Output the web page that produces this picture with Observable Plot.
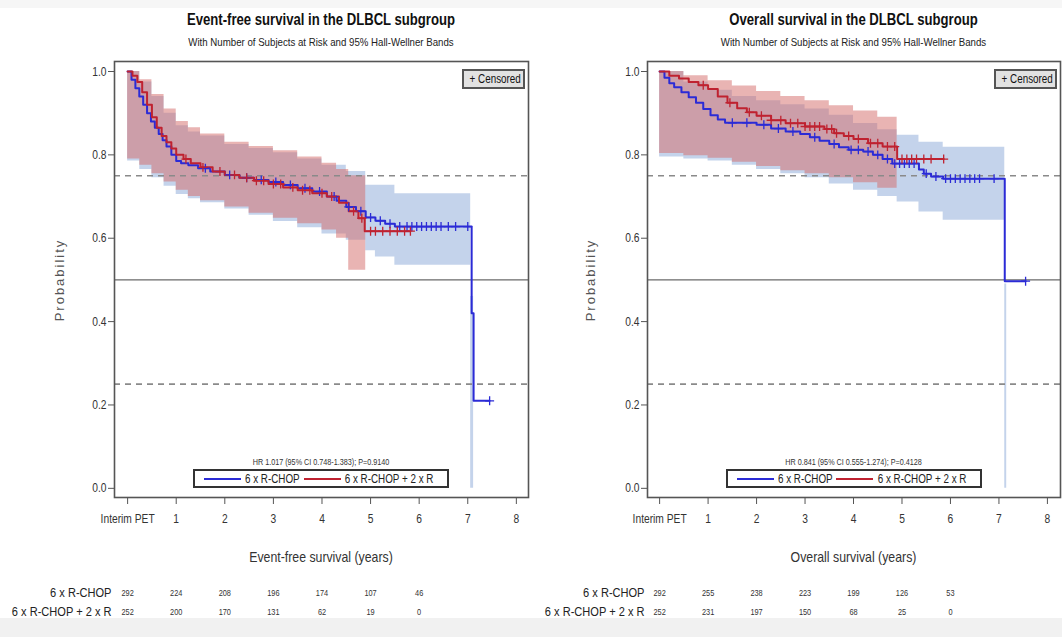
<!DOCTYPE html>
<html><head><meta charset="utf-8">
<script src="https://cdn.jsdelivr.net/npm/d3@7"></script>
<script src="https://cdn.jsdelivr.net/npm/@observablehq/plot@0.6"></script>
<style>
body{margin:0;background:#fff;width:1062px;height:637px;overflow:hidden;position:relative;
 font-family:"Liberation Sans",Arial,sans-serif;color:#222}
.topband{position:absolute;left:0;top:0;width:1062px;height:8px;background:#f6f6f6}
.botband{position:absolute;left:0;top:618px;width:1062px;height:19px;background:#f1f1f1}
.panel{position:absolute;top:0;width:531px;height:637px}
.abs{position:absolute}
.nar{transform:scaleX(0.82);transform-origin:50% 50%}
.title{font-weight:bold;font-size:16px;text-align:center;white-space:nowrap;color:#111;line-height:18px}
.subtitle{font-size:11.8px;text-align:center;white-space:nowrap;color:#222;line-height:13px}
.xlab{font-size:15px;text-align:center;white-space:nowrap;color:#333;line-height:17px}
.ylab{font-size:13px;letter-spacing:2px;white-space:nowrap;color:#555;line-height:14px}
.cens{border:2px solid #555;background:#e2e2e2;font-size:12px;text-align:center;line-height:16px;box-sizing:border-box;color:#111;white-space:nowrap}
.hr{font-size:8.8px;text-align:center;white-space:nowrap;color:#333;line-height:10px}
.legend{border:2px solid #333;background:#fff;box-sizing:border-box;display:flex;align-items:center;justify-content:center;font-size:12px;white-space:nowrap;color:#222}
.legend span.t{display:inline-block;transform:scaleX(0.82)}
.sw{display:inline-block;width:37px;height:0;border-top:2.5px solid}
</style>
</head><body>
<div class="topband"></div>
<div class="botband"></div>
<script>
// ---------- data ----------
const arms = ["6 x R-CHOP", "6 x R-CHOP + 2 x R"];
const xTicks = [0, 1, 2, 3, 4, 5, 6, 7, 8];
const yTicks = [0, 0.2, 0.4, 0.6, 0.8, 1.0];
const refDashed = [0.75, 0.25];
const refSolid = [0.5];
const riskTimes = [0, 1, 2, 3, 4, 5, 6];

// Event-free survival, 6 x R-CHOP
const efsA_t = [0, 0.08, 0.16, 0.24, 0.32, 0.4, 0.48, 0.56, 0.64, 0.72, 0.8, 0.9, 1.0, 1.1, 1.25, 1.45, 1.7, 2.0, 2.3, 2.6, 2.9, 3.2, 3.5, 3.8, 4.1, 4.3, 4.5, 4.7, 4.9, 5.1, 5.3, 5.5, 7.08, 7.12];
const efsA_s = [1.0, 0.98, 0.96, 0.94, 0.92, 0.9, 0.88, 0.865, 0.85, 0.835, 0.82, 0.80, 0.785, 0.78, 0.775, 0.768, 0.76, 0.752, 0.745, 0.74, 0.735, 0.728, 0.72, 0.712, 0.70, 0.69, 0.675, 0.665, 0.65, 0.642, 0.635, 0.628, 0.42, 0.21];
const efsA_cens = [1.6, 2.1, 2.45, 2.75, 3.05, 3.35, 3.65, 3.95, 4.25, 4.55, 4.8, 5.0, 5.2, 5.4, 5.6, 5.75, 5.85, 5.95, 6.05, 6.15, 6.25, 6.35, 6.45, 6.6, 6.75, 7.0, 7.45];
const efsA_band_t = [0, 0.25, 0.5, 0.75, 1.0, 1.25, 1.5, 2.0, 2.5, 3.0, 3.5, 4.0, 4.5, 4.9, 5.1, 5.5, 7.06, 7.12];
const efsA_band_hi = [1.0, 0.975, 0.94, 0.9, 0.87, 0.855, 0.845, 0.825, 0.815, 0.805, 0.79, 0.775, 0.76, 0.727, 0.727, 0.707, 0.46, 0.46];
const efsA_band_lo = [0.785, 0.765, 0.745, 0.725, 0.705, 0.695, 0.685, 0.67, 0.655, 0.64, 0.625, 0.61, 0.595, 0.57, 0.555, 0.535, 0, 0];
// Event-free survival, 6 x R-CHOP + 2 x R
const efsB_t = [0, 0.1, 0.2, 0.3, 0.4, 0.5, 0.6, 0.7, 0.8, 0.9, 1.0, 1.15, 1.3, 1.5, 1.75, 2.0, 2.3, 2.6, 2.9, 3.2, 3.5, 3.8, 4.1, 4.35, 4.55, 4.75, 4.88];
const efsB_s = [1.0, 0.99, 0.975, 0.95, 0.92, 0.89, 0.865, 0.845, 0.83, 0.815, 0.80, 0.79, 0.78, 0.77, 0.76, 0.752, 0.745, 0.738, 0.73, 0.722, 0.715, 0.708, 0.70, 0.685, 0.665, 0.648, 0.617];
const efsB_cens = [1.2, 1.55, 1.9, 2.2, 2.45, 2.65, 2.8, 3.0, 3.15, 3.4, 3.6, 3.75, 4.0, 4.2, 4.65, 4.82, 5.0, 5.1, 5.25, 5.4, 5.55, 5.7, 5.82];
const efsB_band_t = [0, 0.25, 0.5, 0.75, 1.0, 1.25, 1.5, 2.0, 2.5, 3.0, 3.5, 4.0, 4.3, 4.55, 4.9];
const efsB_band_hi = [1.0, 0.98, 0.945, 0.91, 0.88, 0.865, 0.85, 0.83, 0.82, 0.81, 0.795, 0.78, 0.765, 0.75, 0.75];
const efsB_band_lo = [0.79, 0.775, 0.755, 0.735, 0.715, 0.70, 0.69, 0.675, 0.66, 0.648, 0.635, 0.62, 0.60, 0.523, 0.523];
const efsRiskA = [292, 224, 208, 196, 174, 107, 46];
const efsRiskB = [252, 200, 170, 131, 62, 19, 0];

// Overall survival, 6 x R-CHOP
const osA_t = [0, 0.1, 0.2, 0.3, 0.45, 0.6, 0.75, 0.9, 1.05, 1.2, 1.35, 2.0, 2.3, 2.6, 2.9, 3.1, 3.3, 3.5, 3.7, 3.9, 4.2, 4.4, 4.6, 4.8, 5.35, 5.45, 5.6, 5.85, 7.12];
const osA_s = [1.0, 0.985, 0.972, 0.962, 0.95, 0.938, 0.925, 0.91, 0.895, 0.885, 0.877, 0.872, 0.863, 0.856, 0.85, 0.842, 0.834, 0.826, 0.818, 0.812, 0.808, 0.8, 0.79, 0.779, 0.765, 0.755, 0.748, 0.743, 0.497];
const osA_cens = [1.5, 1.8, 2.15, 2.45, 2.75, 3.2, 3.6, 3.95, 4.1, 4.3, 4.5, 4.7, 4.85, 4.95, 5.05, 5.15, 5.25, 5.5, 5.7, 5.9, 6.0, 6.1, 6.2, 6.3, 6.4, 6.5, 6.6, 6.9, 7.55];
const osA_band_t = [0, 0.5, 1.0, 1.5, 2.0, 2.5, 3.0, 3.5, 4.0, 4.5, 4.9, 5.35, 5.85, 7.12, 7.16];
const osA_band_hi = [1.0, 0.975, 0.955, 0.94, 0.93, 0.92, 0.91, 0.895, 0.875, 0.86, 0.847, 0.83, 0.818, 0.49, 0.49];
const osA_band_lo = [0.795, 0.79, 0.785, 0.775, 0.765, 0.755, 0.745, 0.73, 0.715, 0.7, 0.687, 0.663, 0.643, 0, 0];
// Overall survival, 6 x R-CHOP + 2 x R
const osB_t = [0, 0.2, 0.4, 0.6, 0.8, 1.0, 1.2, 1.4, 1.6, 1.8, 2.0, 2.3, 2.6, 3.0, 3.4, 3.6, 3.8, 4.0, 4.3, 4.6, 4.9];
const osB_s = [1.0, 0.99, 0.983, 0.975, 0.967, 0.958, 0.94, 0.925, 0.912, 0.902, 0.894, 0.883, 0.876, 0.868, 0.862, 0.852, 0.845, 0.838, 0.828, 0.82, 0.79];
const osB_cens = [0.9, 1.45, 1.85, 2.1, 2.3, 2.5, 2.7, 2.85, 3.0, 3.1, 3.2, 3.3, 3.45, 3.55, 3.65, 3.9, 4.1, 4.35, 4.5, 4.7, 4.85, 5.0, 5.1, 5.2, 5.3, 5.45, 5.6, 5.86];
const osB_band_t = [0, 0.5, 1.0, 1.5, 2.0, 2.5, 3.0, 3.5, 4.0, 4.5, 4.9];
const osB_band_hi = [1.0, 0.99, 0.978, 0.965, 0.952, 0.94, 0.93, 0.918, 0.905, 0.89, 0.89];
const osB_band_lo = [0.803, 0.798, 0.792, 0.782, 0.772, 0.762, 0.755, 0.745, 0.733, 0.72, 0.72];
const osRiskA = [292, 255, 238, 223, 199, 126, 53];
const osRiskB = [252, 231, 197, 150, 68, 25, 0];

const colorA = "#2b2bd6";
const colorB = "#bf2230";
const bandA = "#8aa8d8";
const bandB = "#d46a68";
const FONT = '"Liberation Sans", Arial, sans-serif';
const NARROW = 0.82;

// ---------- helpers ----------
function stepCurve(ts, ss, cens) {
  const pts = ts.map((t, i) => ({t, s: ss[i]}));
  const end = Math.max(ts[ts.length - 1], ...cens);
  pts.push({t: end, s: ss[ss.length - 1]});
  return pts;
}
function survAt(ts, ss, c) {
  let v = ss[0];
  for (let i = 0; i < ts.length; i++) if (ts[i] <= c) v = ss[i];
  return v;
}
function censPts(ts, ss, cens) { return cens.map(c => ({t: c, s: survAt(ts, ss, c)})); }
function band(ts, lo, hi) { return ts.map((t, i) => ({t, lo: lo[i], hi: hi[i]})); }
// condense SVG text horizontally around its anchor (Arial Narrow look)
function narrowSvg(svg) {
  svg.querySelectorAll("text").forEach(t => {
    let tr = t.getAttribute("transform") || "";
    const x = t.getAttribute("x");
    if (x !== null && /^-?[\d.]+$/.test(x.trim())) {
      tr += ` translate(${x},0)`;
      t.removeAttribute("x");
    }
    t.setAttribute("transform", tr + ` scale(${NARROW},1)`);
  });
}
function el(parent, cls, css, text) {
  const d = document.createElement("div");
  d.className = cls;
  d.style.cssText = css;
  if (text !== undefined) d.textContent = text;
  parent.appendChild(d);
  return d;
}

function drawPanel(cfg) {
  const W = 531, H = 530;
  const panel = el(document.body, "panel", `left:${cfg.left}px`);
  const frameL = cfg.marginLeft, frameR = W - cfg.marginRight;
  const fw = frameR - frameL, fc = frameL + fw / 2;

  el(panel, "abs title nar", `left:${frameL}px;width:${fw}px;top:11px`, cfg.title);
  el(panel, "abs subtitle nar", `left:${frameL}px;width:${fw}px;top:36px`,
     "With Number of Subjects at Risk and 95% Hall-Wellner Bands");

  const main = Plot.plot({
    width: W, height: H,
    marginLeft: cfg.marginLeft, marginRight: cfg.marginRight, marginTop: 61, marginBottom: H - 497,
    style: {fontFamily: FONT, fontSize: "12.5px", color: "#333", background: "transparent"},
    x: {domain: cfg.xDomain},
    y: {domain: [-0.022, 1.024]},
    marks: [
      Plot.areaY(cfg.bandA, {x: "t", y1: "lo", y2: "hi", curve: "step-after", fill: bandA, fillOpacity: 0.5}),
      Plot.areaY(cfg.bandB, {x: "t", y1: "lo", y2: "hi", curve: "step-after", fill: bandB, fillOpacity: 0.5}),
      Plot.ruleY(refDashed, {stroke: "#8a8a8a", strokeWidth: 1.6, strokeDasharray: "6,5"}),
      Plot.ruleY(refSolid, {stroke: "#6a6a6a", strokeWidth: 1.2}),
      Plot.line(cfg.curveA, {x: "t", y: "s", curve: "step-after", stroke: colorA, strokeWidth: 2}),
      Plot.line(cfg.curveB, {x: "t", y: "s", curve: "step-after", stroke: colorB, strokeWidth: 2}),
      Plot.dot(cfg.censA, {x: "t", y: "s", symbol: "plus", r: 3, stroke: colorA, strokeWidth: 1.3}),
      Plot.dot(cfg.censB, {x: "t", y: "s", symbol: "plus", r: 3, stroke: colorB, strokeWidth: 1.3}),
      Plot.frame({stroke: "#555", strokeWidth: 1.6}),
      Plot.axisY({ticks: yTicks, tickFormat: d3.format(".1f"), tickSize: 6, tickPadding: 2,
        label: null, fontSize: 12.5, stroke: "#555"}),
      Plot.axisX({ticks: xTicks, tickFormat: d => d === 0 ? "Interim PET" : String(d), tickSize: 7, tickPadding: 10,
        label: null, fontSize: 12.5, stroke: "#555"})
    ]
  });
  narrowSvg(main);
  main.style.position = "absolute";
  main.style.left = "0px";
  main.style.top = "0px";
  panel.appendChild(main);

  // axis titles
  el(panel, "abs xlab nar", `left:${frameL}px;width:${fw}px;top:548px`, cfg.xLabel);
  el(panel, "abs ylab", `left:60px;top:280px;transform:translate(-50%,-50%) rotate(-90deg)`, "Probability");

  // censored legend
  const cb = el(panel, "abs cens", `left:${frameR - 66}px;top:69px;width:63px;height:20px`);
  const cs = document.createElement("span");
  cs.style.cssText = "display:inline-block;transform:scaleX(0.82)";
  cs.textContent = "+ Censored";
  cb.appendChild(cs);

  // HR text
  el(panel, "abs hr nar", `left:${frameL}px;width:${fw}px;top:457px`, cfg.hr);

  // legend box
  const lg = el(panel, "abs legend", `left:${fc - 128}px;top:469px;width:256px;height:19px`);
  lg.innerHTML = `<span class="sw" style="border-color:${colorA}"></span><span class="t">${arms[0]}</span>` +
    `<span class="sw" style="border-color:${colorB}"></span><span class="t">${arms[1]}</span>`;

  // at-risk table
  const risk = [];
  riskTimes.forEach((t, i) => {
    risk.push({t, arm: arms[0], n: cfg.riskA[i]});
    risk.push({t, arm: arms[1], n: cfg.riskB[i]});
  });
  const tbl = Plot.plot({
    width: W, height: 40,
    marginLeft: cfg.marginLeft, marginRight: cfg.marginRight, marginTop: 0, marginBottom: 0,
    style: {fontFamily: FONT, fontSize: "13.5px", color: "#222", background: "transparent"},
    x: {domain: cfg.xDomain, axis: null},
    y: {type: "band", domain: arms, label: null},
    marks: [
      Plot.axisY({tickSize: 0, tickPadding: 3, label: null, fontSize: 13.5}),
      Plot.text(risk, {x: "t", y: "arm", text: "n", fontSize: 9, fill: "#333"})
    ]
  });
  narrowSvg(tbl);
  tbl.style.position = "absolute";
  tbl.style.left = "0px";
  tbl.style.top = "582px";
  panel.appendChild(tbl);
  return lg;
}

const legends = [];
legends.push(drawPanel({
  left: 0, marginLeft: 114, marginRight: 3, xDomain: [-0.27, 8.25],
  title: "Event-free survival in the DLBCL subgroup",
  xLabel: "Event-free survival (years)",
  hr: "HR 1.017 (95% CI 0.748-1.383); P=0.9140",
  bandA: band(efsA_band_t, efsA_band_lo, efsA_band_hi),
  bandB: band(efsB_band_t, efsB_band_lo, efsB_band_hi),
  curveA: stepCurve(efsA_t, efsA_s, efsA_cens),
  curveB: stepCurve(efsB_t, efsB_s, efsB_cens),
  censA: censPts(efsA_t, efsA_s, efsA_cens),
  censB: censPts(efsB_t, efsB_s, efsB_cens),
  riskA: efsRiskA, riskB: efsRiskB
}));
legends.push(drawPanel({
  left: 531, marginLeft: 116, marginRight: 2, xDomain: [-0.25, 8.27],
  title: "Overall survival in the DLBCL subgroup",
  xLabel: "Overall survival (years)",
  hr: "HR 0.841 (95% CI 0.555-1.274); P=0.4128",
  bandA: band(osA_band_t, osA_band_lo, osA_band_hi),
  bandB: band(osB_band_t, osB_band_lo, osB_band_hi),
  curveA: stepCurve(osA_t, osA_s, osA_cens),
  curveB: stepCurve(osB_t, osB_s, osB_cens),
  censA: censPts(osA_t, osA_s, osA_cens),
  censB: censPts(osB_t, osB_s, osB_cens),
  riskA: osRiskA, riskB: osRiskB
}));
// compensate layout width of horizontally condensed legend labels
legends.forEach(lg => {
  lg.querySelectorAll("span.t").forEach(s => {
    const w = s.offsetWidth;
    const m = -w * (1 - NARROW) / 2;
    s.style.margin = `0 ${m + 4}px 0 ${m + 4}px`;
  });
});
</script>
</body></html>
